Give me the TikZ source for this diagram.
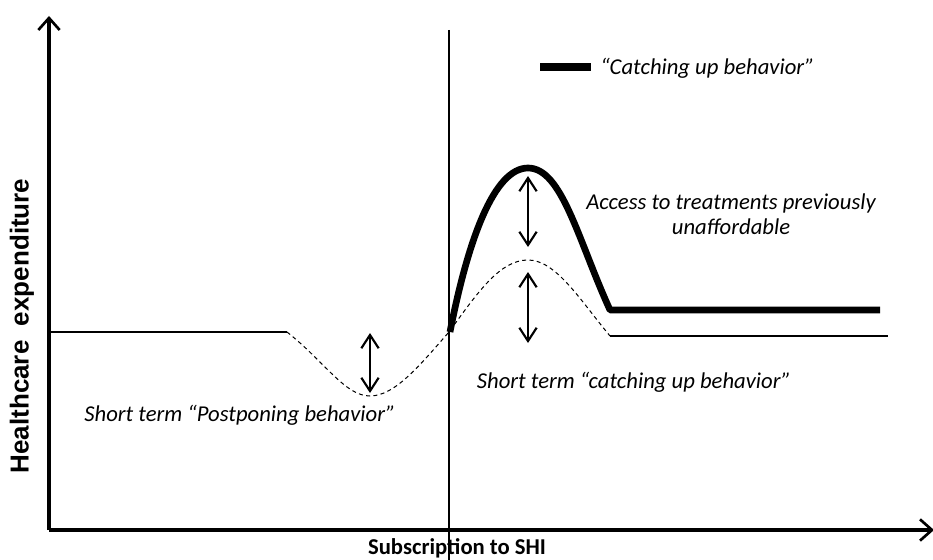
\documentclass[tikz,border=0pt]{standalone}
\usepackage{fontspec}
\setmainfont{Carlito}
\newfontfamily\arialbold{Liberation Sans Bold}
\usetikzlibrary{arrows.meta}
\begin{document}
\begin{tikzpicture}[x=0.75pt,y=-0.75pt,
  axisline/.style={line width=2.3pt,-{Straight Barb[length=9pt,width=16pt,line width=2pt]}},
  divider/.style={line width=1.9pt},
  baseline/.style={line width=2.1pt},
  dashcurve/.style={line width=0.75pt,dash pattern=on 3pt off 2.5pt},
  thickcurve/.style={line width=5pt,line join=round},
  dblarrow/.style={line width=1.6pt,{Straight Barb[length=10pt,width=13pt,line width=1.6pt]}-{Straight Barb[length=10pt,width=13pt,line width=1.6pt]}},
  note/.style={font=\fontsize{17}{19}\selectfont\itshape,inner sep=0pt,align=center}]
\useasboundingbox (0,0) rectangle (933,560);
% axes
\coordinate (origin) at (49,530);
\coordinate (ytip) at (49,16);
\coordinate (xtip) at (934,530);
\draw[axisline] (origin) -- (ytip);
\draw[axisline] (origin) -- (xtip);
\coordinate (vtop) at (449,30);
\coordinate (vbot) at (449,562);
\draw[divider] (vtop) -- (vbot);
% baseline
\coordinate (b0) at (50,332);
\coordinate (b1) at (287,332);
\coordinate (bmin) at (370,396);
\coordinate (b2) at (449,332);
\coordinate (bpk) at (528,260);
\coordinate (b3) at (610,336);
\coordinate (b4) at (888,336);
\draw[baseline] (b0) -- (b1);
\draw[dashcurve] (b1) .. controls (325,362) and (345,396) .. (bmin)
  .. controls (395,396) and (420,365) .. (b2)
  .. controls (478,292) and (500,260) .. (bpk)
  .. controls (556,260) and (580,300) .. (b3);
\draw[baseline] (b3) -- (b4);
% catching up curve
\coordinate (c0) at (450,332);
\coordinate (cpk) at (528,168);
\coordinate (c1) at (610,310);
\coordinate (c2) at (880,310);
\draw[thickcurve] (c0) .. controls (468,240) and (494,168) .. (cpk)
  .. controls (562,168) and (578,240) .. (c1) -- (c2);
% double arrows
\coordinate (a1t) at (370,333);
\coordinate (a1b) at (370,393);
\coordinate (a2t) at (528,176);
\coordinate (a2b) at (528,247);
\coordinate (a3t) at (528,272);
\coordinate (a3b) at (528,343);
\draw[dblarrow] (a1t) -- (a1b);
\draw[dblarrow] (a2t) -- (a2b);
\draw[dblarrow] (a3t) -- (a3b);
% legend
\coordinate (l0) at (540,67);
\coordinate (l1) at (591,67);
\draw[line width=5.4pt] (l0) -- (l1);
\node[note,anchor=west] (legtext) at (600,68) {“Catching up behavior”};
% labels
\node[note] (access) at (731,214) {Access to treatments previously\\unaffordable};
\node[note] (shortcatch) at (634,382) {Short term “catching up behavior”};
\node[note] (shortpost) at (240,415) {Short term “Postponing behavior”};
\node[font=\fontsize{17}{19}\selectfont\bfseries,anchor=base,inner sep=0pt] (xlabel) at (457,554) {Subscription to SHI};
\node[font=\arialbold\fontsize{19.5}{22}\selectfont,rotate=90,inner sep=0pt] (ylabel) at (22,326) {Healthcare\ \ expenditure};
\end{tikzpicture}
\end{document}
